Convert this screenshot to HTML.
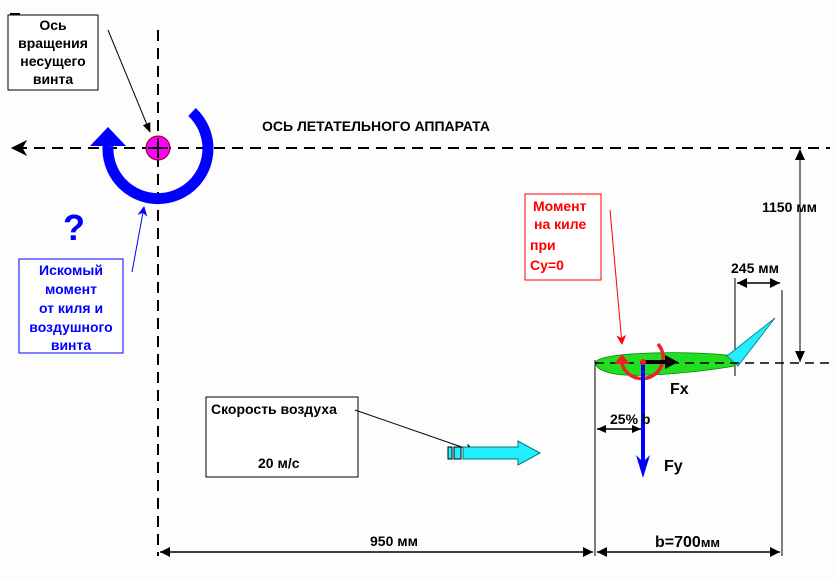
<!DOCTYPE html>
<html><head><meta charset="utf-8"><style>
html,body{margin:0;padding:0;background:#fdfdfd;}
svg{display:block;font-family:"Liberation Sans",sans-serif;}
</style></head><body>
<svg width="835" height="580" viewBox="0 0 835 580" xmlns="http://www.w3.org/2000/svg">
<defs>
<marker id="ab" markerWidth="10" markerHeight="8" refX="9" refY="4" orient="auto" markerUnits="userSpaceOnUse"><path d="M0,0 L10,4 L0,8 Z" fill="#000"/></marker>
<marker id="ar" markerWidth="10" markerHeight="10" refX="9" refY="5" orient="auto" markerUnits="userSpaceOnUse"><path d="M0,0 L10,5 L0,10 L3,5Z" fill="#f00"/></marker>
<marker id="abl" markerWidth="10" markerHeight="10" refX="9" refY="5" orient="auto" markerUnits="userSpaceOnUse"><path d="M0,0 L10,5 L0,10 L3,5Z" fill="#00f"/></marker>
<marker id="ak" markerWidth="12" markerHeight="10" refX="11" refY="5" orient="auto" markerUnits="userSpaceOnUse"><path d="M0,0 L12,5 L0,10 L3,5Z" fill="#000"/></marker>
</defs>
<line x1="158" y1="30" x2="158" y2="556" stroke="#000" stroke-width="2" stroke-dasharray="11,7"/>
<line x1="16" y1="148" x2="830" y2="148" stroke="#000" stroke-width="2" stroke-dasharray="11,7"/>
<path d="M12,148 L26,141 L22,148 L26,155Z" fill="#000" stroke="#000" stroke-width="1"/>
<path d="M192,112 A50,50 0 1 1 108,146" stroke="#00f" stroke-width="11" fill="none"/>
<path d="M90,146 L126,146 L108,127 Z" fill="#00f"/>
<circle cx="158" cy="148" r="12" fill="#f0f" stroke="#800" stroke-width="1"/>
<path d="M158,138 V158 M148,148 H168" stroke="#000" stroke-width="2"/>
<line x1="10" y1="14" x2="20" y2="14" stroke="#000" stroke-width="2"/>
<rect x="8" y="15" width="90" height="75" fill="#fff" stroke="#000" stroke-width="1"/>
<g font-weight="bold" font-size="14" text-anchor="middle" fill="#000">
<text x="53" y="30">Ось</text><text x="53" y="48">вращения</text><text x="53" y="66">несущего</text><text x="53" y="84">винта</text>
</g>
<line x1="108" y1="30" x2="150" y2="132" stroke="#000" stroke-width="1" marker-end="url(#ab)"/>
<text x="74" y="240" font-size="36" font-weight="bold" fill="#00f" text-anchor="middle">?</text>
<rect x="19" y="259" width="104" height="94" fill="#fff" stroke="#00f" stroke-width="1"/>
<g font-weight="bold" font-size="14" text-anchor="middle" fill="#00f">
<text x="71" y="275">Искомый</text><text x="71" y="294">момент</text><text x="71" y="313">от киля и</text><text x="71" y="332">воздушного</text><text x="71" y="350">винта</text>
</g>
<line x1="132" y1="272" x2="144" y2="207" stroke="#00f" stroke-width="1" marker-end="url(#abl)"/>
<text x="262" y="131" font-size="14" font-weight="bold">ОСЬ ЛЕТАТЕЛЬНОГО АППАРАТА</text>
<rect x="525" y="194" width="76" height="86" fill="#fff" stroke="#f00" stroke-width="1"/>
<g font-weight="bold" font-size="14" fill="#f00">
<text x="533" y="211">Момент</text><text x="534" y="229">на киле</text><text x="530" y="250">при</text><text x="530" y="270">Cy=0</text>
</g>
<line x1="610" y1="210" x2="622" y2="344" stroke="#f00" stroke-width="1" marker-end="url(#ar)"/>
<line x1="800" y1="150" x2="800" y2="362" stroke="#000" stroke-width="1"/>
<path d="M800,149 L795,160 L805,160Z M800,362 L795,351 L805,351Z" fill="#000"/>
<text x="762" y="212" font-size="14" font-weight="bold">1150 мм</text>
<line x1="735" y1="278" x2="735" y2="376" stroke="#000" stroke-width="1"/>
<line x1="782" y1="290" x2="782" y2="556" stroke="#000" stroke-width="1"/>
<line x1="595" y1="360" x2="595" y2="556" stroke="#000" stroke-width="1"/>
<text x="731" y="273" font-size="14" font-weight="bold">245 мм</text>
<line x1="737" y1="283" x2="780" y2="283" stroke="#000" stroke-width="1.5"/>
<path d="M737,283 L747,278 L747,288Z M780,283 L770,278 L770,288Z" fill="#000"/>
<path d="M596,362 C600,352 690,350 735,356 L735,366 C700,372 640,378 615,374 C600,371 595,367 596,362Z" fill="#2d2" stroke="#080" stroke-width="0.8"/>
<path d="M727,356 L775,318 L738,366 Z" fill="#2ef" stroke="#077" stroke-width="0.8"/>
<line x1="595" y1="363" x2="830" y2="363" stroke="#000" stroke-width="1.5" stroke-dasharray="9,6"/>
<path d="M658,344 A21,21 0 1 1 622,364" stroke="#e22" stroke-width="3.5" fill="none"/>
<path d="M614,364 L630,364 L622,354Z" fill="#e22"/>
<line x1="643" y1="362" x2="672" y2="362" stroke="#000" stroke-width="4"/>
<path d="M678,362 L665,355 L665,369Z" fill="#000"/>
<line x1="643" y1="362" x2="643" y2="470" stroke="#00f" stroke-width="4"/>
<path d="M643,478 L636,455 L643,462 L650,455Z" fill="#00f"/>
<circle cx="643" cy="362" r="3" fill="#e22"/>
<text x="670" y="394" font-size="16" font-weight="bold">Fx</text>
<text x="610" y="424" font-size="14" font-weight="bold">25% b</text>
<line x1="597" y1="429" x2="641" y2="429" stroke="#000" stroke-width="1.5"/>
<path d="M597,429 L606,425 L606,433Z M641,429 L632,425 L632,433Z" fill="#000"/>
<text x="664" y="471" font-size="16" font-weight="bold">Fy</text>
<rect x="206" y="397" width="152" height="80" fill="#fff" stroke="#000" stroke-width="1"/>
<text x="211" y="414" font-size="14" font-weight="bold">Скорость воздуха</text>
<text x="258" y="468" font-size="14" font-weight="bold">20 м/с</text>
<line x1="355" y1="410" x2="476" y2="452" stroke="#000" stroke-width="1" marker-end="url(#ak)"/>
<rect x="448" y="447" width="4" height="12" fill="#2ef" stroke="#000" stroke-width="1"/>
<rect x="454" y="447" width="7" height="12" fill="#2ef" stroke="#000" stroke-width="1"/>
<path d="M463,447 L518,447 L518,441 L540,453 L518,465 L518,459 L463,459Z" fill="#2ef" stroke="#077" stroke-width="1"/>
<line x1="160" y1="552" x2="593" y2="552" stroke="#000" stroke-width="1.5"/>
<path d="M160,552 L170,547 L170,557Z M593,552 L583,547 L583,557Z" fill="#000"/>
<line x1="597" y1="552" x2="780" y2="552" stroke="#000" stroke-width="1.5"/>
<path d="M597,552 L607,547 L607,557Z M780,552 L770,547 L770,557Z" fill="#000"/>
<text x="370" y="546" font-size="14" font-weight="bold">950 мм</text>
<text x="655" y="547" font-size="16" font-weight="bold">b=700<tspan font-size="13">мм</tspan></text>
</svg>
</body></html>
